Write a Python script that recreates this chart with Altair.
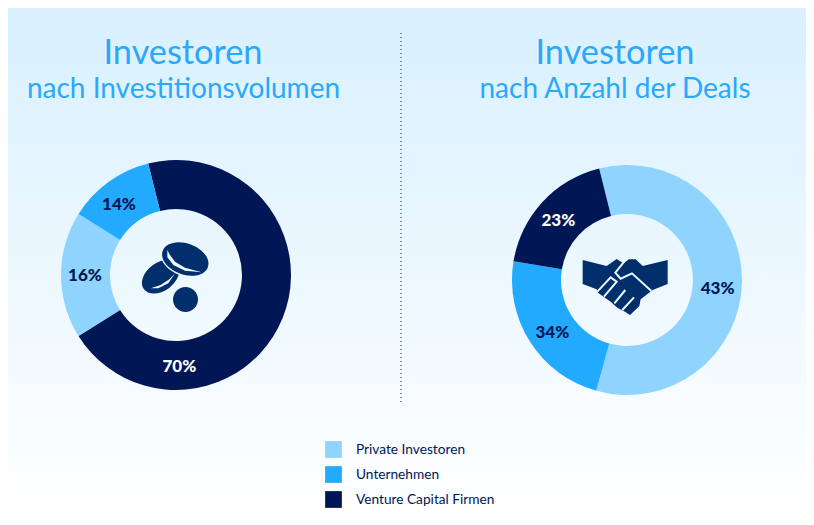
import math
import altair as alt
import pandas as pd

FONT = "Lato"
NAVY = "#001655"
ICON = "#002f6c"
BLUE = "#2aa8fb"
INNER = "#ecf8ff"

categories = ["Private Investoren", "Unternehmen", "Venture Capital Firmen"]
colors = ["#8fd3ff", "#22aaff", NAVY]

# left ring, drawn clockwise from the first entry
left_cats = ["Venture Capital Firmen", "Private Investoren", "Unternehmen"]
left_vals = [70, 17.8, 12.2]
left_text = ["70%", "16%", "14%"]
left_label_pos = [53.3, 78.9, 93.1]
left_text_col = ["#ffffff", NAVY, NAVY]

# right ring: the drawn shares differ from the printed percentages
right_cats = ["Private Investoren", "Unternehmen", "Venture Capital Firmen"]
right_vals = [58.2, 23.3, 18.5]
right_text = ["43%", "34%", "23%"]
right_label_pos = [30.3, 69.2, 90.3]
right_text_col = [NAVY, NAVY, "#ffffff"]


def frame(cats, vals, text, pos, cols):
    return pd.DataFrame({"cat": cats, "v": vals, "t": text, "p": pos, "c": cols, "o": range(len(cats))})


left_df = frame(left_cats, left_vals, left_text, left_label_pos, left_text_col)
right_df = frame(right_cats, right_vals, right_text, right_label_pos, right_text_col)

OFF = 8  # page margin
theta_scale = alt.Scale(domain=[0, 100], range=[math.radians(-14), math.radians(346)])
color_scale = alt.Scale(domain=categories, range=colors)
legend = alt.Legend(
    title=None, orient="none", legendX=325 - OFF, legendY=441 - OFF, symbolType="square",
    symbolSize=280, symbolStrokeWidth=0, labelFont=FONT, labelFontSize=13.7, labelColor=NAVY,
    labelOffset=14, rowPadding=8, symbolOpacity=1,
)


def ring(df, cx, cy, show_legend):
    arc = alt.Chart(df).mark_arc(outerRadius=115, innerRadius=66, stroke=None).encode(
        theta=alt.Theta("v:Q", stack=True, scale=theta_scale),
        order=alt.Order("o:Q"),
        color=alt.Color("cat:N", scale=color_scale, legend=legend if show_legend else None),
        x=alt.value(cx - OFF),
        y=alt.value(cy - OFF),
    )
    lab = alt.Chart(df).mark_text(
        radius=91, font=FONT, fontSize=17, fontWeight=900, align="center", baseline="middle"
    ).encode(
        theta=alt.Theta("p:Q", stack=None, scale=theta_scale),
        text="t:N",
        color=alt.Color("c:N", scale=None),
        x=alt.value(cx - OFF),
        y=alt.value(cy - OFF + 1),
    )
    return [arc, lab]


def label(txt, cx, cy, size):
    return alt.Chart(pd.DataFrame({"t": [txt]})).mark_text(
        font=FONT, fontSize=size, color=BLUE, align="center", baseline="middle"
    ).encode(text="t:N", x=alt.value(cx - OFF), y=alt.value(cy - OFF))


# ---- icons: unit paths, 1 unit = 40 px from the icon centre
U = 40.0
SIZE = (2 * U) ** 2


def ell(cx, cy, rx, ry, rot):
    a = math.radians(rot)
    dx, dy = rx * math.cos(a), rx * math.sin(a)
    return (
        f"M{(cx-dx)/U:.4f},{(cy-dy)/U:.4f}"
        f"A{rx/U:.4f},{ry/U:.4f} {rot} 1 1 {(cx+dx)/U:.4f},{(cy+dy)/U:.4f}"
        f"A{rx/U:.4f},{ry/U:.4f} {rot} 1 1 {(cx-dx)/U:.4f},{(cy-dy)/U:.4f}Z"
    )


def poly(points, ox, oy, k=1 / 3, close=True):
    s = "M" + "L".join(f"{(x*k+ox)/U:.4f},{(y*k+oy)/U:.4f}" for x, y in points)
    return s + ("Z" if close else "")


def icon(path, cx, cy, color, stroke=None, width=0):
    if stroke:
        mark = alt.Chart(pd.DataFrame({"a": [0]})).mark_point(
            shape=path, size=SIZE, filled=False, stroke=stroke, strokeWidth=width, opacity=1
        )
    else:
        mark = alt.Chart(pd.DataFrame({"a": [0]})).mark_point(
            shape=path, size=SIZE, filled=True, fill=color, strokeWidth=0, opacity=1
        )
    return mark.encode(x=alt.value(cx - OFF), y=alt.value(cy - OFF))


CX, CY = 176, 275
coin_o = (130 - CX, 220 - CY)
coins = [
    icon(ell(-15.3, 1.7, 21, 14, -37), CX, CY, ICON),
    icon(poly([(62, 205), (85, 205), (115, 190), (135, 160), (118, 178), (92, 195)], *coin_o), CX, CY, INNER),
    icon(ell(9.3, -16, 25.5, 17, 20), CX, CY, INNER),
    icon(ell(9.3, -16, 24, 15.5, 20), CX, CY, ICON),
    icon(poly([(112, 90), (112, 112), (130, 135), (165, 152), (215, 157), (165, 143), (135, 125), (120, 105)], *coin_o), CX, CY, INNER),
    icon(ell(9.5, 24.5, 12.5, 12.5, 0), CX, CY, ICON),
]

HX, HY = 627, 280
hand_o = (570 - HX, 240 - HY)
shake = [
    icon(poly([(38, 60), (110, 78), (140, 57), (160, 70), (177, 58), (197, 58), (218, 78), (293, 60), (293, 132), (248, 150), (212, 178), (208, 198), (180, 225), (165, 215), (142, 203), (122, 185), (84, 158), (80, 148), (38, 132)], *hand_o), HX, HY, ICON),
    icon(poly([(82, 155), (122, 112), (140, 125), (102, 170)], *hand_o, close=False), HX, HY, None, INNER, 2),
    icon(poly([(133, 190), (166, 150)], *hand_o, close=False), HX, HY, None, INNER, 2),
    icon(poly([(157, 210), (192, 172)], *hand_o, close=False), HX, HY, None, INNER, 2),
    icon(poly([(165, 62), (136, 98), (152, 116), (186, 100), (244, 153)], *hand_o, close=False), HX, HY, None, INNER, 2),
]

backdrop = alt.Chart(pd.DataFrame({"a": [0]})).mark_rect(
    color=alt.LinearGradient(
        gradient="linear", x1=0, y1=0, x2=0, y2=1,
        stops=[alt.GradientStop(color="#d8f0ff", offset=0), alt.GradientStop(color="#ffffff", offset=1)],
    )
).encode(x=alt.value(0), x2=alt.value(798), y=alt.value(0), y2=alt.value(509))

divider = alt.Chart(pd.DataFrame({"a": [0]})).mark_rule(
    color=NAVY, strokeDash=[1, 3], strokeWidth=1
).encode(x=alt.value(401 - OFF), y=alt.value(33 - OFF), y2=alt.value(405 - OFF))

titles = [
    label("Investoren", 183, 54, 34.3),
    label("nach Investitionsvolumen", 183.5, 90, 28),
    label("Investoren", 615, 54, 34.3),
    label("nach Anzahl der Deals", 615, 90, 28),
]

layers = [backdrop] + titles + [divider] + ring(left_df, 176, 275, True) + ring(right_df, 627, 280, False) + coins + shake

chart = alt.layer(*layers).properties(
    width=798, height=509, padding=0,
    autosize=alt.AutoSizeParams(type="none"),
).configure_view(stroke=None)

chart.save("out.html", embed_options={"renderer": "svg", "actions": False})
